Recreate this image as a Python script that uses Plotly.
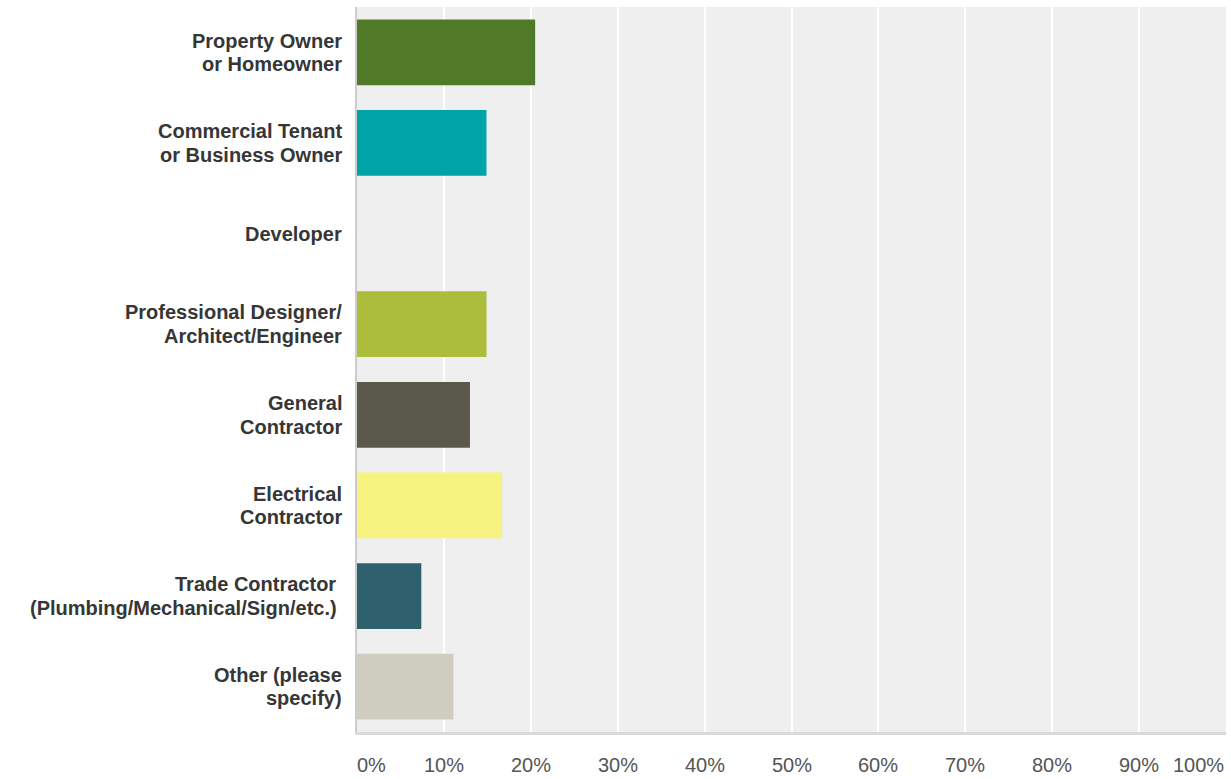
import plotly.graph_objects as go

# Respondent roles and share of responses (%)
categories = [
    "Property Owner<br>or Homeowner",
    "Commercial Tenant<br>or Business Owner",
    "Developer",
    "Professional Designer/<br>Architect/Engineer",
    "General<br>Contractor",
    "Electrical<br>Contractor",
    "Trade Contractor\u00a0<br>(Plumbing/Mechanical/Sign/etc.)\u00a0",
    "Other (please<br>specify)",
]
percentages = [20.5, 14.9, 0.0, 14.9, 13.0, 16.7, 7.4, 11.1]
bar_colors = ["#507a28", "#00a3a8", "#7a9c6e", "#abbd3a", "#5b5a4a",
              "#f7f380", "#2e606d", "#cfcdc0"]
tick_values = [0, 10, 20, 30, 40, 50, 60, 70, 80, 90, 100]
tick_labels = [f"{v}%" for v in tick_values]

LABEL_FONT = dict(family="Liberation Sans, Arial, sans-serif", size=20,
                  color="#363636", weight="bold")
LINE_HEIGHT = 23.4  # px between stacked label lines

fig = go.Figure(
    go.Bar(
        x=percentages,
        y=categories,
        orientation="h",
        marker=dict(color=bar_colors, line=dict(width=0)),
        hoverinfo="x",
    )
)

fig.update_layout(
    width=1231,
    height=779,
    margin=dict(l=357, r=5, t=7, b=47),
    paper_bgcolor="white",
    plot_bgcolor="#efefef",
    bargap=0.275,
    showlegend=False,
    font=dict(family="Liberation Sans, Arial, sans-serif"),
)

fig.update_yaxes(
    autorange="reversed",
    showgrid=False,
    showline=True,
    linecolor="#cccccc",
    linewidth=2,
    ticks="",
    showticklabels=False,
)

fig.update_xaxes(
    range=[0, 100],
    tickvals=tick_values,
    showticklabels=False,
    showgrid=True,
    gridcolor="white",
    gridwidth=2,
    showline=True,
    linecolor="#dadada",
    linewidth=3,
    zeroline=False,
)

# Category labels, one annotation per line so the lines sit tightly together
for cat in categories:
    lines = cat.split("<br>")
    n = len(lines)
    for i, line in enumerate(lines):
        fig.add_annotation(
            x=0, xref="x", y=cat, yref="y",
            text=line, showarrow=False,
            xanchor="right", yanchor="middle",
            xshift=-13, yshift=((n - 1) / 2 - i) * LINE_HEIGHT,
            font=LABEL_FONT,
        )

# Percent labels under the axis; end labels kept inside the plot width
for v, label in zip(tick_values, tick_labels):
    if v == tick_values[0]:
        anchor, shift = "left", -2
    elif v == tick_values[-1]:
        anchor, shift = "right", 0
    else:
        anchor, shift = "center", 0
    fig.add_annotation(
        x=v, xref="x", y=0, yref="paper",
        text=label, showarrow=False,
        xanchor=anchor, yanchor="middle", yshift=-33, xshift=shift,
        font=dict(family="Liberation Sans Narrow, Arial Narrow, Liberation Sans, sans-serif",
                  size=20, color="#555555"),
    )

fig.write_html("out.html")
